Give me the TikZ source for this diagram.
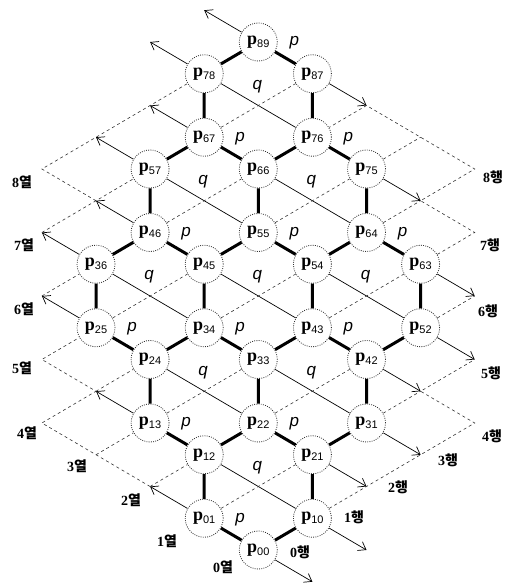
\documentclass[tikz,border=0pt]{standalone}
\usepackage{fontspec}
\setmainfont{Liberation Serif}
\newfontfamily\subfont{Liberation Sans}
\newfontfamily\labfont{Liberation Sans}
\newfontfamily\krfont{Noto Sans CJK KR}
\usetikzlibrary{arrows.meta,calc}

% node text: bold serif p with a sans subscript index
\newcommand\pnum[1]{{\bfseries\fontsize{18}{18}\selectfont p}\raisebox{-3pt}{\subfont\fontsize{11}{11}\selectfont #1}}
% axis label: number plus Korean word
\newcommand\axtext[2]{{\bfseries #1}{\krfont\bfseries #2}}

\tikzset{
  pnode/.style={circle, draw=black!80, line width=0.8pt, dash pattern=on 0.9pt off 1.3pt,
                fill=white, minimum size=38pt, inner sep=0pt},
  bond/.style={line width=3pt, black},
  rowline/.style={line width=0.7pt, black},
  axisarrow/.style={rowline, -{Straight Barb[length=7pt,width=10pt,line width=0.7pt]}},
  gridline/.style={line width=0.6pt, black!80, dash pattern=on 3pt off 3pt},
  plab/.style={font=\labfont\itshape\fontsize{17}{17}\selectfont, inner sep=0pt},
  axlab/.style={font=\fontsize{14}{14}\selectfont, inner sep=0pt},
}

\begin{document}
\begin{tikzpicture}[x=1pt,y=1pt]
\useasboundingbox (0,0) rectangle (511,583);

% lattice points (i = row, j = column)
\foreach \i in {0,...,9}{
  \foreach \j in {0,...,9}{
    \coordinate (g\i\j) at ({258.3+(\i-\j)*54.1},{33+(\i+\j)*31.75});
  }
}
\coordinate (g0n1) at ({258.3+54.1},{33-31.75});
\coordinate (g1n1) at ({258.3+2*54.1},{33});

% processing elements
\foreach \n in {00,01,10,12,21,13,22,31,24,33,42,25,34,43,52,36,45,54,63,46,55,64,57,66,75,67,76,78,87}{
  \node[pnode] (n\n) at (g\n) {\pnum{\n}};
}
\node[pnode] (n89) at (g88) {\pnum{89}};

% thick hexagonal links
\draw[bond]
  (n00)--(n01) (n00)--(n10)
  (n01)--(n12) (n10)--(n21)
  (n12)--(n13) (n12)--(n22) (n21)--(n22) (n21)--(n31)
  (n13)--(n24) (n22)--(n33) (n31)--(n42)
  (n24)--(n25) (n24)--(n34) (n33)--(n34) (n33)--(n43) (n42)--(n43) (n42)--(n52)
  (n25)--(n36) (n34)--(n45) (n43)--(n54) (n52)--(n63)
  (n36)--(n46) (n45)--(n46) (n45)--(n55) (n54)--(n55) (n54)--(n64) (n63)--(n64)
  (n46)--(n57) (n55)--(n66) (n64)--(n75)
  (n57)--(n67) (n66)--(n67) (n66)--(n76) (n75)--(n76)
  (n67)--(n78) (n76)--(n87)
  (n78)--(n89) (n87)--(n89);

% row lines across the hexagons
\draw[rowline]
  (n12)--(n10) (n24)--(n22) (n33)--(n31)
  (n36)--(n34) (n45)--(n43) (n54)--(n52)
  (n57)--(n55) (n66)--(n64) (n78)--(n76);

% column lines across the hexagons
\draw[gridline]
  (n01)--(n21) (n13)--(n33) (n22)--(n42)
  (n25)--(n45) (n34)--(n54) (n43)--(n63)
  (n46)--(n66) (n55)--(n75) (n67)--(n87);

% row axis arrows
\draw[axisarrow] (n01)--(g02);
\draw[axisarrow] (n13)--(g14);
\draw[axisarrow] (n25)--(g26);
\draw[axisarrow] (n36)--(g37);
\draw[axisarrow] (n46)--(g47);
\draw[axisarrow] (n57)--(g58);
\draw[axisarrow] (n67)--(g68);
\draw[axisarrow] (n78)--(g79);
\draw[axisarrow] (n89)--(g89);
\draw[axisarrow] (n00)--(g0n1);
\draw[axisarrow] (n10)--(g1n1);
\draw[axisarrow] (n21)--(g20);
\draw[axisarrow] (n31)--(g30);
\draw[axisarrow] (n42)--(g41);
\draw[axisarrow] (n52)--(g51);
\draw[axisarrow] (n63)--(g62);
\draw[axisarrow] (n75)--(g74);
\draw[axisarrow] (n87)--(g86);

% outer grid, left side
\draw[gridline] (g02)--(g03)--(g04)--(g14)--(g15)--(n25);
\draw[gridline] (g02)--(n12) (g03)--(n13) (g14)--(n24);
\draw[gridline] (g26)--(n36);
\draw[gridline] (g37)--(g47)--(n57) (g47)--(g48)--(g58)--(g68)--(n78);

% outer grid, right side
\draw[gridline] (n10)--(g20)--(g30)--(g40)--(g41)--(g51);
\draw[gridline] (n31)--(g41);
\draw[gridline] (n52)--(g62);
\draw[gridline] (n63)--(g73)--(g74)--(g84)--(g85)--(g86)--(n76) (n64)--(g74) (n75)--(g85);

% link labels
\foreach \n in {01,13,22,25,34,43,46,55,64,67,76,89}{
  \node[plab] (lp\n) at ($(n\n)+(36,-1)$) {p};
}
\foreach \h in {11,23,32,35,44,53,56,65,77}{
  \node[plab] (lq\h) at ($(g\h)+(-1,19)$) {q};
}

% column labels
\node[axlab] (c0) at (223,16)  {\axtext{0}{열}};
\node[axlab] (c1) at (167,42)  {\axtext{1}{열}};
\node[axlab] (c2) at (131,83)  {\axtext{2}{열}};
\node[axlab] (c3) at (77,117)  {\axtext{3}{열}};
\node[axlab] (c4) at (27,150)  {\axtext{4}{열}};
\node[axlab] (c5) at (22,215)  {\axtext{5}{열}};
\node[axlab] (c6) at (24,274)  {\axtext{6}{열}};
\node[axlab] (c7) at (24,338)  {\axtext{7}{열}};
\node[axlab] (c8) at (22,401)  {\axtext{8}{열}};

% row labels
\node[axlab] (r0) at (300,31)  {\axtext{0}{행}};
\node[axlab] (r1) at (354,66)  {\axtext{1}{행}};
\node[axlab] (r2) at (398,96)  {\axtext{2}{행}};
\node[axlab] (r3) at (448,123) {\axtext{3}{행}};
\node[axlab] (r4) at (492,147) {\axtext{4}{행}};
\node[axlab] (r5) at (491,210) {\axtext{5}{행}};
\node[axlab] (r6) at (488,272) {\axtext{6}{행}};
\node[axlab] (r7) at (490,338) {\axtext{7}{행}};
\node[axlab] (r8) at (493,406) {\axtext{8}{행}};
\end{tikzpicture}
\end{document}
